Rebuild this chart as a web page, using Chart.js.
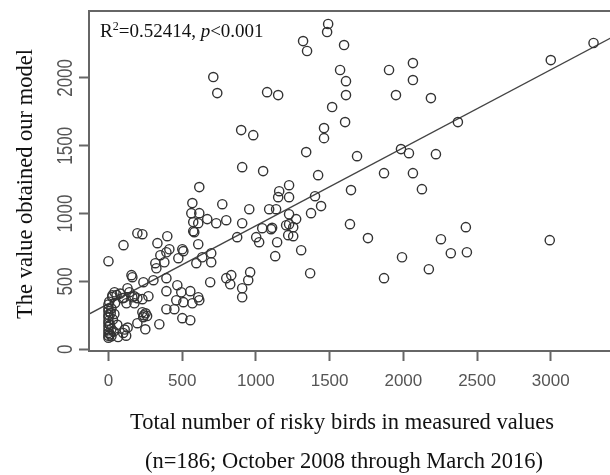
<!DOCTYPE html>
<html>
<head>
<meta charset="utf-8">
<script src="https://cdn.jsdelivr.net/npm/chart.js@4"></script>
<style>
  html, body { margin: 0; padding: 0; background: #fff; overflow: hidden; }
  #wrap { width: 620px; height: 475px; }
</style>
</head>
<body>
<div id="wrap"><canvas id="scatter"></canvas></div>
<script>
// measured total of risky birds (x) and the value from the model (y)
let measured = [
  711, 738, 1076, 1151, 900, 982, 1490, 1483, 1320, 1347, 1598, 1571, 1611, 1611, 1517, 1605,
  1462, 1462, 1341, 1686, 1422, 1903, 2065, 2065, 1950, 2187, 1984, 2038, 2221, 1869, 2065,
  3290, 3000, 2370, 2424, 2993, 2322, 2431, 1401, 1442, 1374, 1273, 1253, 1307, 1368, 1645,
  1638, 1760, 2126, 2255, 1991, 2173, 1869, 1225, 1225, 1225, 1225, 1253, 907, 1049, 616, 569,
  772, 955, 1158, 1151, 1090, 1137, 562, 616, 575, 609, 670, 582, 731, 799, 907, 1103, 1110,
  1043, 1205, 1002, 873, 1022, 1144, 1219, 609, 575, 196, 230, 102, 332, 399, 413, 501,
  156, 162, 305, 393, 467, 393, 494, 460, 508, 393, 447, 345, 555, 616, 501, 555, 352, 318,
  325, 379, 474, 393, 508, 596, 636, 697, 697, 1131, 690, 799, 833, 826, 961, 948, 907, 907,
  609, 569, 237, 271, 230, 196, 196, 250,
  230, 240, 252, 262, 236,
  100, 110, 120, 130, 105, 122, 142, 129, 176, 162, 95, 41, 27, 175, 0,
  0, 0, 0, 0, 0, 0, 0, 0, 0, 0, 0, 0, 5, 10, 10, 15, 20, 20, 20, 25, 30, 35, 40, 45, 55, 60, 65, 80
];
let modelled = [
  2006, 1888, 1895, 1873, 1615, 1578, 2397, 2338, 2271, 2198, 2242, 2058, 1976, 1873, 1785, 1674,
  1630, 1556, 1453, 1423, 1283, 2058, 2109, 1984, 1873, 1851, 1475, 1445, 1438, 1298, 1298,
  2257, 2131, 1674, 900, 804, 708, 715, 1128, 1055, 1003, 959, 833, 730, 560, 1173,
  922, 819, 1180, 811, 678, 590, 524, 1209, 1121, 995, 922, 900, 1342, 1313, 1195, 1077,
  1069, 1032, 1165, 1121, 1032, 1032, 1003, 1003, 937, 929, 959, 863, 929, 951, 929, 885, 895,
  892, 914, 826, 826, 789, 789, 841, 774, 870, 855, 848, 767, 782, 833, 737, 737,
  546, 531, 509, 524, 472, 428, 420, 361, 347, 295, 295, 184, 428, 361, 229, 214, 693, 634,
  597, 641, 671, 715, 723, 634, 678, 708, 641, 686, 494, 524, 546, 479, 568, 509, 450, 383,
  383, 339, 494, 391, 369, 376, 192, 147,
  273, 250, 265, 245, 236,
  120, 145, 100, 160, 380, 339, 420, 450, 339, 383, 376, 420, 398, 390, 649,
  85, 100, 120, 140, 165, 190, 210, 235, 255, 280, 300, 330, 350, 110, 180, 265, 95, 150, 300, 385, 220, 130, 260, 340, 400, 180, 90, 410
];

// fitted line, read at both ends of the x range
let fitX = [-132, 3422];
let fitY = [259, 2303];

let xTicks = [0, 500, 1000, 1500, 2000, 2500, 3000];
let yTicks = [0, 500, 1000, 1500, 2000];

let tickFont = '"Liberation Sans", Arial, sans-serif';
let serif = '"Liberation Serif", "Times New Roman", serif';

let points = measured.map((v, i) => ({ x: v, y: modelled[i] }));
let fitLine = fitX.map((v, i) => ({ x: v, y: fitY[i] }));

// box, rotated y labels, axis titles and the R2 note
let decorate = {
  id: 'decorate',
  afterDraw(chart) {
    let ctx = chart.ctx, a = chart.chartArea, ys = chart.scales.y;
    ctx.save();
    ctx.strokeStyle = '#666';
    ctx.lineWidth = 2;
    ctx.strokeRect(a.left, a.top, a.right - a.left, a.bottom - a.top);

    ctx.fillStyle = '#555';
    ctx.font = '17px ' + tickFont;
    ctx.textAlign = 'center';
    ctx.textBaseline = 'alphabetic';
    yTicks.forEach(v => {
      ctx.save();
      ctx.translate(72, ys.getPixelForValue(v));
      ctx.rotate(-Math.PI / 2);
      ctx.scale(1, 1.35);
      ctx.fillText(String(v), 0, 0);
      ctx.restore();
    });

    ctx.fillStyle = '#111';
    ctx.font = '22.5px ' + serif;
    ctx.save();
    ctx.translate(32, 184);
    ctx.rotate(-Math.PI / 2);
    ctx.fillText('The value obtained our model', 0, 0);
    ctx.restore();

    ctx.fillText('Total number of risky birds in measured values', 342, 429);
    ctx.fillText('(n=186; October 2008 through March 2016)', 344, 468);

    // R² = ..., p < 0.001
    ctx.textAlign = 'left';
    let x0 = 100, base = 37;
    ctx.font = '19px ' + serif;
    ctx.fillText('R', x0, base);
    x0 += ctx.measureText('R').width;
    ctx.font = '12px ' + serif;
    ctx.fillText('2', x0, base - 7);
    x0 += ctx.measureText('2').width;
    ctx.font = '19px ' + serif;
    ctx.fillText('=0.52414, ', x0, base);
    x0 += ctx.measureText('=0.52414, ').width;
    ctx.font = 'italic 19px ' + serif;
    ctx.fillText('p', x0, base);
    x0 += ctx.measureText('p').width;
    ctx.font = '19px ' + serif;
    ctx.fillText('<0.001', x0, base);
    ctx.restore();
  }
};

let ctx = document.getElementById('scatter').getContext('2d');
let myChart = new Chart(ctx, {
  type: 'scatter',
  data: {
    datasets: [
      {
        label: 'measured vs model',
        data: points,
        backgroundColor: 'rgba(0,0,0,0)',
        borderColor: '#333',
        borderWidth: 1.4,
        pointRadius: 4.6,
        pointHoverRadius: 4.6
      },
      {
        type: 'line',
        label: 'fit',
        data: fitLine,
        borderColor: '#444',
        borderWidth: 1.3,
        pointRadius: 0,
        fill: false
      }
    ]
  },
  options: {
    responsive: true,
    maintainAspectRatio: false,
    animation: false,
    layout: { padding: { top: 11, right: 7, left: 0, bottom: 0 } },
    plugins: { legend: { display: false }, tooltip: { enabled: false } },
    scales: {
      x: {
        type: 'linear',
        min: -132,
        max: 3422,
        afterBuildTicks: s => { s.ticks = xTicks.map(v => ({ value: v })); },
        afterFit: s => { s.height = 124; },
        ticks: {
          color: '#555', font: { family: tickFont, size: 17 }, padding: 10,
          maxRotation: 0, autoSkip: false, callback: v => String(v)
        },
        grid: { drawOnChartArea: false, tickLength: 10, tickColor: '#666', tickWidth: 2 },
        border: { display: false }
      },
      y: {
        type: 'linear',
        min: -13,
        max: 2493,
        afterBuildTicks: s => { s.ticks = yTicks.map(v => ({ value: v })); },
        afterFit: s => { s.width = 89; },
        ticks: { display: false },
        grid: { drawOnChartArea: false, tickLength: 10, tickColor: '#666', tickWidth: 2 },
        border: { display: false }
      }
    }
  },
  plugins: [decorate]
});
</script>
</body>
</html>
